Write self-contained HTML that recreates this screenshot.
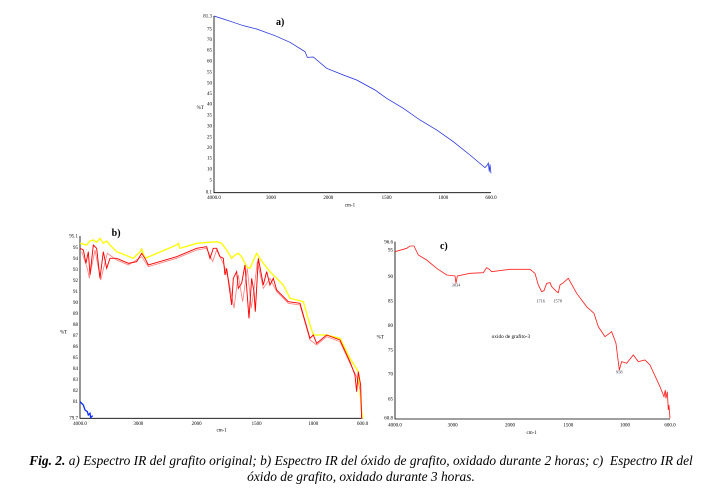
<!DOCTYPE html>
<html><head><meta charset="utf-8"><style>
body{margin:0;background:#fff;width:722px;height:498px;overflow:hidden;font-family:"Liberation Serif",serif}
svg{position:absolute;left:0;top:0}
.cap{position:absolute;left:0;width:722px;text-align:center;font-style:italic;font-size:13.4px;color:#000;font-family:"Liberation Serif",serif;white-space:nowrap}
</style></head><body>
<svg width="722" height="498" viewBox="0 0 722 498" font-family="Liberation Serif, serif">
<!-- chart a -->
<g transform="translate(190,5) scale(0.3333)">
<path d="M72,33V563H903" fill="none" stroke="#000" stroke-width="2.5"/>
<g font-size="15" text-anchor="end" fill="#000">
<text x="66" y="37">81.3</text><text x="66" y="76">75</text><text x="66" y="108">70</text><text x="66" y="140">65</text><text x="66" y="173">60</text><text x="66" y="205">55</text><text x="66" y="238">50</text><text x="66" y="270">45</text><text x="66" y="302">40</text><text x="66" y="335">35</text><text x="66" y="367">30</text><text x="66" y="400">25</text><text x="66" y="432">20</text><text x="66" y="464">15</text><text x="66" y="497">10</text><text x="66" y="529">5</text><text x="66" y="566">0.1</text>
</g>
<g font-size="15" text-anchor="middle"><text x="72" y="582">4000.0</text><text x="243" y="582">3000</text><text x="415" y="582">2000</text><text x="590" y="582">1500</text><text x="760" y="582">1000</text><text x="903" y="582">600.0</text><text x="480" y="605">cm-1</text></g>
<text x="20" y="312" font-size="15">%T</text>
<text x="258" y="60" font-size="30" font-weight="bold">a)</text>
<polyline fill="none" stroke="#1f2de0" stroke-width="2.2" points="72,33 100,42 130,52 160,62 200,72 255,92 300,112 345,140 352,157 370,156 410,190 460,210 500,225 555,255 590,280 640,310 690,345 740,375 790,410 840,450 885,488 892,480 895,474 898,500 900,478 903,505"/>
</g>
<!-- chart b -->
<g transform="translate(50,225) scale(0.3333)">
<path d="M90,33V580H938" fill="none" stroke="#000" stroke-width="2.5"/>
<g font-size="15" text-anchor="end">
<text x="84" y="37">95.1</text><text x="84" y="72">95</text><text x="84" y="105">94</text><text x="84" y="138">93</text><text x="84" y="171">92</text><text x="84" y="204">91</text><text x="84" y="237">90</text><text x="84" y="270">89</text><text x="84" y="303">88</text><text x="84" y="336">87</text><text x="84" y="369">86</text><text x="84" y="402">85</text><text x="84" y="435">84</text><text x="84" y="468">83</text><text x="84" y="501">82</text><text x="84" y="534">81</text><text x="84" y="583">79.7</text>
</g>
<g font-size="15" text-anchor="middle"><text x="90" y="600">4000.0</text><text x="265" y="600">3000</text><text x="440" y="600">2000</text><text x="620" y="600">1500</text><text x="790" y="600">1000</text><text x="938" y="600">600.0</text><text x="515" y="620">cm-1</text></g>
<text x="30" y="325" font-size="15">%T</text>
<text x="185" y="33" font-size="30" font-weight="bold">b)</text>
<polyline fill="none" stroke="#ffff00" stroke-width="4" points="90,55 110,60 120,48 130,45 140,52 150,40 160,55 170,48 180,60 200,80 250,100 270,80 275,72 285,100 380,60 385,55 390,70 440,55 500,50 515,55 530,75 545,100 555,90 565,85 575,95 590,125 600,130 620,85 630,100 640,115 660,140 700,180 720,220 760,230 780,300 790,330 830,330 870,340 900,400 925,440 935,560 938,580"/>
<polyline fill="none" stroke="#ff8080" stroke-width="2.5" points="95,80 112,130 118,160 135,75 152,165 172,85 200,105 235,120 275,95 295,125 380,100 440,75 470,70 488,110 500,75 522,120 535,160 552,250 565,150 578,230 592,130 604,250 615,170 622,110 640,190 660,160 680,200 715,235 750,240 780,345 800,360 830,335 870,350 900,415 920,455 932,500 935,580"/>
<polyline fill="none" stroke="#ff0000" stroke-width="2.8" points="90,70 100,75 108,115 115,80 120,150 130,60 140,70 150,160 160,80 170,130 180,100 200,100 235,115 260,110 275,85 285,100 295,120 380,95 440,70 470,65 480,100 490,70 500,70 510,95 520,100 525,150 530,130 545,240 550,160 560,140 565,190 575,175 585,120 597,280 605,160 612,200 616,260 625,100 640,180 650,140 660,180 670,160 680,195 715,230 750,235 780,340 790,330 800,355 830,330 870,345 900,410 915,450 920,500 925,440 932,480 935,580"/>
<polyline fill="none" stroke="#1030ff" stroke-width="4" points="90,530 100,540 105,555 112,560 115,570 120,565 122,578 128,572"/>
</g>
<!-- chart c -->
<g transform="translate(370,230) scale(0.3333)">
<path d="M75,35V567H900" fill="none" stroke="#000" stroke-width="2.5"/>
<g font-size="15" text-anchor="end">
<text x="69" y="40">96.6</text><text x="69" y="64">95</text><text x="69" y="144">90</text><text x="69" y="217">85</text><text x="69" y="291">80</text><text x="69" y="364">75</text><text x="69" y="437">70</text><text x="69" y="511">65</text><text x="69" y="569">60.8</text>
</g>
<g font-size="15" text-anchor="middle"><text x="75" y="589">4000.0</text><text x="248" y="589">3000</text><text x="420" y="589">2000</text><text x="595" y="589">1500</text><text x="765" y="589">1000</text><text x="900" y="589">600.0</text><text x="485" y="612">cm-1</text></g>
<text x="20" y="325" font-size="15">%T</text>
<text x="210" y="57" font-size="30" font-weight="bold">c)</text>
<g font-size="13" text-anchor="middle" fill="#334"><text x="258" y="170">3034</text><text x="512" y="217">1716</text><text x="563" y="217">1578</text><text x="748" y="430">958</text></g>
<text x="365" y="324" font-size="16">oxido de grafito-3</text>
<polyline fill="none" stroke="#ff2020" stroke-width="2.5" points="75,65 110,55 120,48 132,48 145,75 170,90 200,115 230,135 255,138 258,160 262,138 300,130 340,128 350,113 358,118 365,125 420,118 480,118 495,130 505,165 515,185 522,182 530,160 540,158 545,170 560,185 565,188 570,165 580,158 595,145 620,190 650,230 672,250 685,290 705,320 725,305 738,340 748,420 755,395 770,400 790,375 805,395 825,390 840,405 870,470 882,500 886,480 888,505 892,485 895,540 897,525 900,565"/>
</g>
</svg>
<div class="cap" style="top:453px"><b>Fig. 2.</b> a) Espectro IR del grafito original; b) Espectro IR del óxido de grafito, oxidado durante 2 horas; c)&nbsp; Espectro IR del</div>
<div class="cap" style="top:469px">óxido de grafito, oxidado durante 3 horas.</div>
</body></html>
